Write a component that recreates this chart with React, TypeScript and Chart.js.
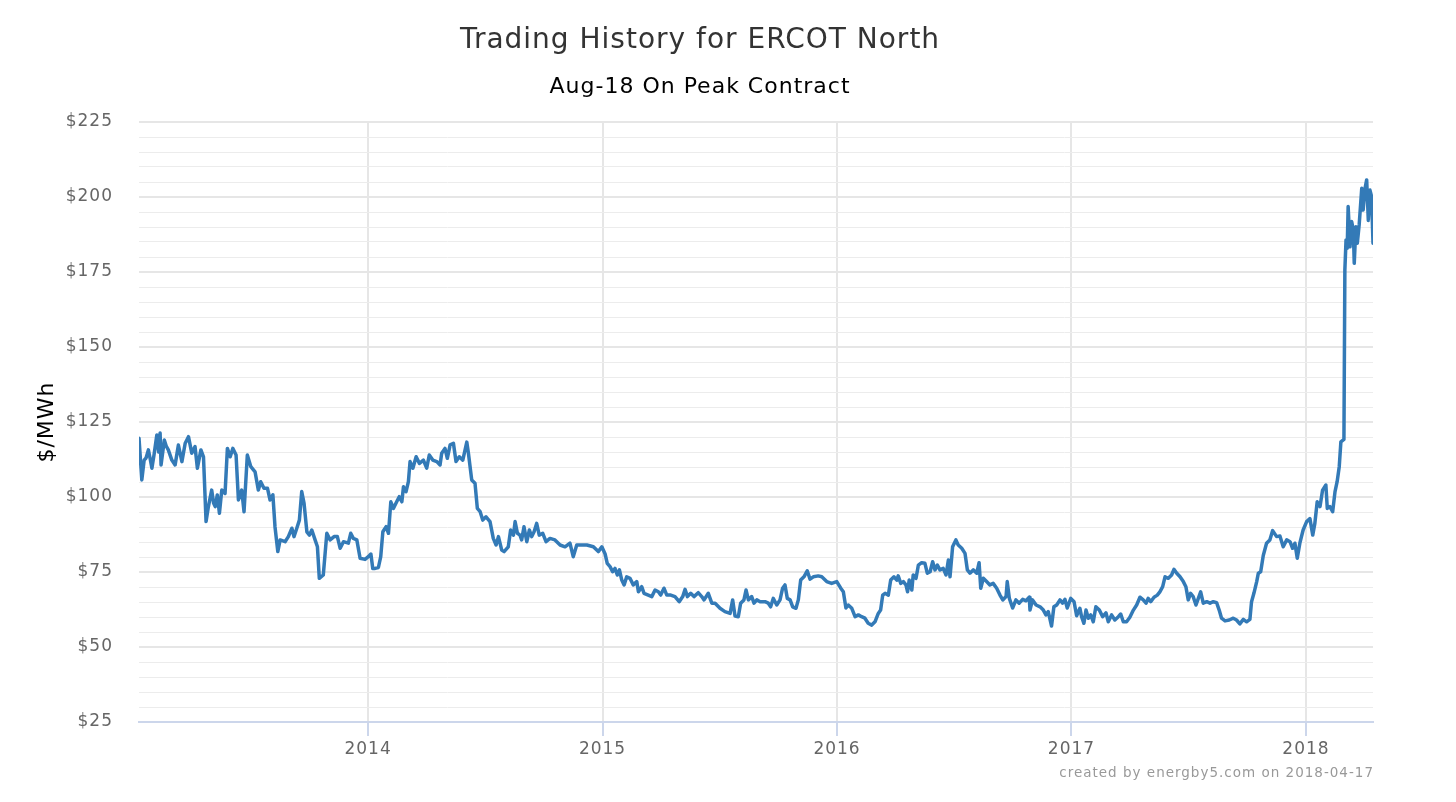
import React, { useEffect, useRef } from "react";
import { Chart, registerables } from "chart.js";

Chart.register(...registerables);

const TITLE = "Trading History for ERCOT North";
const SUBTITLE = "Aug-18 On Peak Contract";
const Y_AXIS_TITLE = "$/MWh";
const CREDIT = "created by energby5.com on 2018-04-17";

const yearTicks = [2014, 2015, 2016, 2017, 2018];
const X_MIN = 2013.023;
const X_MAX = 2018.286;
const Y_MIN = 25;
const Y_MAX = 225;
const Y_MINOR_STEP = 5;
const Y_MAJOR_STEP = 25;

// [decimal year, $/MWh]
const trades2013: [number, number][] = [
  [2013.023, 119.6], [2013.035, 105.7], [2013.045, 112.3], [2013.053, 113], [2013.063, 115.7],
  [2013.07, 113], [2013.078, 109.6], [2013.087, 114], [2013.099, 120.7], [2013.107, 115],
  [2013.113, 121.3], [2013.117, 110.7], [2013.131, 119], [2013.139, 117], [2013.148, 115.7],
  [2013.163, 112.3], [2013.177, 110.7], [2013.191, 117.3], [2013.206, 111.8], [2013.22, 117.9],
  [2013.234, 120.1], [2013.248, 114.6], [2013.262, 116.8], [2013.272, 109.6], [2013.287, 115.7],
  [2013.298, 113.4], [2013.309, 91.8], [2013.319, 96.8], [2013.333, 102.3], [2013.341, 98],
  [2013.348, 96.8], [2013.357, 100.7], [2013.366, 94.6], [2013.376, 102.3], [2013.39, 101.2],
  [2013.4, 116.2], [2013.412, 113.4], [2013.423, 116.2], [2013.437, 114], [2013.447, 99],
  [2013.461, 102.3], [2013.471, 95.1], [2013.485, 114], [2013.5, 110.1], [2013.518, 108.4],
  [2013.532, 102.3], [2013.542, 105.1], [2013.556, 102.9], [2013.571, 102.9], [2013.582, 99],
  [2013.594, 100.7], [2013.603, 90.1], [2013.615, 81.8], [2013.625, 85.7], [2013.646, 85.1],
  [2013.66, 86.8], [2013.675, 89.6], [2013.684, 86.8], [2013.696, 89.6], [2013.707, 92.3],
  [2013.717, 101.8], [2013.727, 97.9], [2013.739, 88.4], [2013.75, 87.3], [2013.76, 89],
  [2013.774, 85.7], [2013.784, 83.4], [2013.792, 72.9], [2013.809, 74], [2013.824, 87.9],
  [2013.838, 85.7], [2013.855, 86.8], [2013.869, 86.8], [2013.881, 82.9], [2013.895, 85.1],
  [2013.916, 84.6], [2013.926, 87.9], [2013.937, 86.2], [2013.952, 85.7], [2013.966, 79.6],
  [2013.987, 79.2],
];

const trades2014: [number, number][] = [
  [2014.001, 80.1], [2014.012, 81], [2014.02, 76.2], [2014.03, 76.2], [2014.044, 76.5],
  [2014.054, 80.1], [2014.063, 88.4], [2014.077, 90.1], [2014.087, 87.9], [2014.097, 98.4],
  [2014.108, 96.2], [2014.122, 98.4], [2014.133, 100.1], [2014.144, 98.4], [2014.151, 103.4],
  [2014.162, 101.8], [2014.172, 105.1], [2014.179, 111.8], [2014.191, 109.6], [2014.205, 113.4],
  [2014.219, 111.2], [2014.236, 112.3], [2014.25, 109.6], [2014.261, 114], [2014.276, 112.3],
  [2014.293, 111.8], [2014.307, 110.7], [2014.314, 114.6], [2014.328, 116.2], [2014.338, 112.9],
  [2014.35, 117.4], [2014.364, 117.9], [2014.375, 111.8], [2014.389, 113.4], [2014.404, 112.3],
  [2014.421, 118.3], [2014.428, 114.6], [2014.442, 105.7], [2014.456, 104.6], [2014.466, 96.2],
  [2014.478, 95.1], [2014.489, 92.3], [2014.503, 93.4], [2014.52, 91.8], [2014.534, 86.2],
  [2014.546, 84], [2014.556, 86.8], [2014.57, 82.3], [2014.58, 81.8], [2014.598, 83.4],
  [2014.608, 89], [2014.62, 87.3], [2014.627, 91.8], [2014.637, 87.9], [2014.648, 87.3],
  [2014.655, 85.7], [2014.665, 90.1], [2014.677, 85.1], [2014.688, 89], [2014.698, 86.8],
  [2014.708, 88.4], [2014.719, 91.2], [2014.73, 87.3], [2014.745, 87.9], [2014.759, 85.1],
  [2014.776, 86.2], [2014.797, 85.7], [2014.819, 84], [2014.84, 83.4], [2014.861, 84.6],
  [2014.875, 80.1], [2014.89, 84], [2014.911, 84], [2014.933, 84], [2014.961, 83.4],
  [2014.982, 81.8], [2014.997, 83.4],
];

const trades2015: [number, number][] = [
  [2015.011, 81], [2015.02, 77.9], [2015.032, 76.8], [2015.043, 75.1], [2015.053, 76.2],
  [2015.063, 74], [2015.072, 75.7], [2015.082, 72.3], [2015.092, 70.7], [2015.103, 73.4],
  [2015.117, 72.9], [2015.131, 70.7], [2015.146, 71.8], [2015.153, 68.4], [2015.167, 70.1],
  [2015.177, 67.9], [2015.195, 67.3], [2015.21, 66.8], [2015.224, 69], [2015.238, 68.4],
  [2015.248, 67.3], [2015.262, 69.6], [2015.274, 67.3], [2015.291, 67.3], [2015.309, 66.8],
  [2015.327, 65.1], [2015.342, 66.8], [2015.352, 69.2], [2015.362, 66.8], [2015.376, 67.9],
  [2015.39, 66.8], [2015.408, 68.1], [2015.423, 66.8], [2015.433, 65.7], [2015.451, 67.9],
  [2015.466, 64.6], [2015.48, 64.6], [2015.501, 62.9], [2015.522, 61.8], [2015.544, 61.2],
  [2015.555, 65.7], [2015.565, 60.3], [2015.579, 60.1], [2015.589, 64.6], [2015.603, 65.7],
  [2015.612, 69], [2015.622, 65.7], [2015.636, 66.8], [2015.646, 64.6], [2015.658, 65.7],
  [2015.672, 65.1], [2015.693, 65.1], [2015.707, 64.6], [2015.717, 63.4], [2015.728, 66.2],
  [2015.743, 64], [2015.757, 65.7], [2015.768, 69.6], [2015.778, 70.7], [2015.788, 66.2],
  [2015.8, 65.7], [2015.811, 63.4], [2015.825, 62.9], [2015.835, 65.7], [2015.845, 72.3],
  [2015.859, 73.4], [2015.873, 75.4], [2015.885, 72.6], [2015.899, 73.4], [2015.92, 73.7],
  [2015.935, 73.4], [2015.956, 71.8], [2015.977, 71.2], [2015.999, 71.8],
];

const trades2016: [number, number][] = [
  [2016.016, 69.6], [2016.027, 68.4], [2016.038, 63], [2016.048, 64], [2016.063, 62.9],
  [2016.077, 60.1], [2016.091, 60.7], [2016.105, 60.1], [2016.119, 59.6], [2016.133, 57.9],
  [2016.148, 57.3], [2016.162, 58.4], [2016.176, 61.2], [2016.186, 62.3], [2016.195, 67.3],
  [2016.205, 67.9], [2016.219, 67.3], [2016.229, 72.3], [2016.243, 73.4], [2016.255, 72.3],
  [2016.261, 73.7], [2016.272, 71.2], [2016.283, 71.8], [2016.294, 70.7], [2016.301, 68.4],
  [2016.308, 72.3], [2016.319, 69], [2016.325, 74], [2016.337, 72.9], [2016.347, 77.3],
  [2016.361, 78.1], [2016.375, 77.9], [2016.385, 74.6], [2016.397, 75.1], [2016.408, 78.4],
  [2016.418, 75.7], [2016.428, 77.3], [2016.439, 75.7], [2016.453, 76.2], [2016.465, 74],
  [2016.475, 79], [2016.482, 73.4], [2016.493, 83.4], [2016.507, 85.7], [2016.517, 84],
  [2016.532, 82.9], [2016.546, 81.2], [2016.556, 75.7], [2016.567, 74.6], [2016.581, 75.7],
  [2016.596, 74.6], [2016.606, 78.1], [2016.613, 69.6], [2016.624, 72.9], [2016.638, 71.8],
  [2016.652, 70.7], [2016.666, 71.2], [2016.681, 69.6], [2016.695, 67.3], [2016.707, 65.7],
  [2016.721, 66.8], [2016.726, 71.8], [2016.735, 66.2], [2016.749, 63], [2016.763, 65.7],
  [2016.777, 64.6], [2016.792, 65.9], [2016.806, 65.4], [2016.82, 66.6], [2016.823, 62.3],
  [2016.834, 65.7], [2016.849, 64], [2016.866, 63.4], [2016.88, 62.3], [2016.891, 60.7],
  [2016.901, 61.8], [2016.915, 57], [2016.925, 63.4], [2016.937, 64], [2016.951, 65.7],
  [2016.962, 64.6], [2016.972, 65.9], [2016.982, 63], [2016.997, 66.2],
];

const trades2017: [number, number][] = [
  [2017.011, 65.1], [2017.022, 60.4], [2017.036, 62.9], [2017.043, 60.1], [2017.053, 57.9],
  [2017.062, 62.3], [2017.072, 59.6], [2017.082, 60.7], [2017.093, 58.4], [2017.104, 63.4],
  [2017.119, 62.3], [2017.133, 60.1], [2017.147, 61.4], [2017.157, 58.4], [2017.171, 60.7],
  [2017.185, 59], [2017.2, 60.1], [2017.21, 61], [2017.221, 58.4], [2017.235, 58.4],
  [2017.249, 59.9], [2017.264, 62.3], [2017.278, 64], [2017.292, 66.6], [2017.306, 65.7],
  [2017.318, 64.6], [2017.327, 66.2], [2017.338, 65.1], [2017.352, 66.6], [2017.366, 67.3],
  [2017.377, 68.4], [2017.389, 70.1], [2017.399, 73.4], [2017.413, 72.9], [2017.427, 74],
  [2017.437, 75.9], [2017.449, 74.6], [2017.463, 73.4], [2017.477, 71.8], [2017.488, 70.1],
  [2017.498, 65.7], [2017.508, 67.9], [2017.519, 66.8], [2017.531, 64], [2017.541, 66.2],
  [2017.551, 68.4], [2017.562, 64.6], [2017.577, 65.1], [2017.591, 64.6], [2017.605, 65.1],
  [2017.619, 64.8], [2017.63, 62.3], [2017.64, 59.6], [2017.655, 58.7], [2017.673, 59],
  [2017.69, 59.6], [2017.704, 59], [2017.718, 57.7], [2017.733, 59.2], [2017.747, 58.4],
  [2017.761, 59.2], [2017.768, 65.1], [2017.778, 67.9], [2017.79, 71.8], [2017.797, 74.6],
  [2017.807, 75.1], [2017.818, 80.5], [2017.832, 84.6], [2017.846, 85.7], [2017.858, 88.8],
  [2017.875, 86.8], [2017.889, 87], [2017.903, 83.4], [2017.918, 85.7], [2017.932, 85.1],
  [2017.943, 82.9], [2017.953, 84.6], [2017.963, 79.6], [2017.974, 84.6], [2017.988, 89],
];

const trades2018: [number, number][] = [
  [2018.003, 91.8], [2018.017, 92.8], [2018.029, 87.3], [2018.038, 91.2], [2018.048, 98.4],
  [2018.06, 96.8], [2018.071, 102.3], [2018.085, 104], [2018.091, 96.2], [2018.102, 96.8],
  [2018.114, 95.1], [2018.124, 101.8], [2018.133, 105.1], [2018.142, 110.1], [2018.149, 118.4],
  [2018.162, 119.2], [2018.166, 175.7], [2018.171, 185.7], [2018.176, 182.9], [2018.18, 196.8],
  [2018.188, 183.4], [2018.195, 191.8], [2018.202, 189], [2018.206, 177.9], [2018.213, 190.1],
  [2018.219, 184.6], [2018.227, 190.7], [2018.238, 202.9], [2018.244, 195.7], [2018.252, 202.9],
  [2018.259, 205.7], [2018.266, 192.2], [2018.273, 202.3], [2018.28, 200.1], [2018.286, 184.6],
];

const FONT = "'DejaVu Sans', 'Liberation Sans', sans-serif";

export default function App() {
  const canvasRef = useRef<HTMLCanvasElement>(null);

  useEffect(() => {
    const canvas = canvasRef.current;
    if (!canvas) return;

    const points = [
      ...trades2013, ...trades2014, ...trades2015,
      ...trades2016, ...trades2017, ...trades2018,
    ].map(([x, y]) => ({ x, y }));

    const spacingPlugin = {
      id: "letterSpacing",
      beforeDraw(chart: any) {
        (chart.ctx as any).letterSpacing = "1px";
      },
    };

    const creditPlugin = {
      id: "credit",
      afterDraw(chart: any) {
        const ctx = chart.ctx as CanvasRenderingContext2D;
        ctx.save();
        (ctx as any).letterSpacing = "1px";
        ctx.font = `13.5px ${FONT}`;
        ctx.fillStyle = "#999999";
        ctx.textAlign = "right";
        ctx.textBaseline = "middle";
        ctx.fillText(CREDIT, chart.chartArea.right + 1, chart.height - 29);
        ctx.restore();
      },
    };

    const chart = new Chart(canvas, {
      type: "line",
      data: {
        datasets: [
          {
            label: SUBTITLE,
            data: points,
            borderColor: "#337ab7",
            backgroundColor: "#337ab7",
            borderWidth: 3.5,
            pointRadius: 0,
            tension: 0,
            fill: false,
            borderJoinStyle: "round",
            borderCapStyle: "round",
          },
        ],
      },
      options: {
        responsive: false,
        animation: false,
        devicePixelRatio: 1,
        parsing: false as any,
        layout: { padding: { left: 27, right: 83, top: 0, bottom: 0 } },
        plugins: {
          legend: { display: false },
          tooltip: { enabled: false },
          title: {
            display: true,
            text: TITLE,
            color: "#333333",
            font: { family: FONT, size: 28, weight: "normal" },
            padding: { top: 24, bottom: 16 },
          },
          subtitle: {
            display: true,
            text: SUBTITLE,
            color: "#000000",
            font: { family: FONT, size: 22, weight: "normal" },
            padding: { top: 0, bottom: 22 },
          },
        },
        scales: {
          x: {
            type: "linear",
            bounds: "data",
            min: X_MIN,
            max: X_MAX,
            afterBuildTicks: (scale: any) => {
              scale.ticks = yearTicks.map((v) => ({ value: v }));
            },
            afterFit: (scale: any) => {
              scale.height = 80;
            },
            ticks: {
              autoSkip: false,
              maxRotation: 0,
              color: "#666666",
              font: { family: FONT, size: 17 },
              padding: 3,
              callback: (v: any) => String(v),
            },
            grid: {
              color: "#e6e6e6",
              lineWidth: 2,
              drawTicks: true,
              tickLength: 14,
              tickColor: "#ccd6eb",
              tickWidth: 2,
            },
            border: { display: true, color: "#ccd6eb", width: 2 },
          },
          y: {
            type: "linear",
            min: Y_MIN,
            max: Y_MAX,
            afterFit: (scale: any) => {
              scale.width = 112;
            },
            ticks: {
              stepSize: Y_MINOR_STEP,
              autoSkip: false,
              color: "#666666",
              font: { family: FONT, size: 17 },
              padding: 26,
              callback: (v: any) => (Number(v) % Y_MAJOR_STEP === 0 ? "$" + v : ""),
            },
            grid: {
              drawTicks: false,
              color: (ctx: any) => {
                const v = ctx.tick ? ctx.tick.value : 0;
                if (v === Y_MIN) return "rgba(0,0,0,0)";
                return v % Y_MAJOR_STEP === 0 ? "#e6e6e6" : "#ececec";
              },
              lineWidth: (ctx: any) => {
                const v = ctx.tick ? ctx.tick.value : 0;
                return v % Y_MAJOR_STEP === 0 ? 2 : 1;
              },
            },
            border: { display: false },
            title: {
              display: true,
              text: Y_AXIS_TITLE,
              color: "#000000",
              font: { family: FONT, size: 22, weight: "normal" },
              padding: { top: 7, bottom: 0 },
            },
          },
        },
      } as any,
      plugins: [spacingPlugin, creditPlugin],
    });

    return () => {
      chart.destroy();
    };
  }, []);

  return (
    <div
      style={{
        position: "absolute",
        left: 0,
        top: 0,
        width: 1456,
        height: 802,
        background: "#ffffff",
      }}
    >
      <canvas
        ref={canvasRef}
        width={1456}
        height={802}
        style={{ display: "block", width: 1456, height: 802 }}
      />
    </div>
  );
}
